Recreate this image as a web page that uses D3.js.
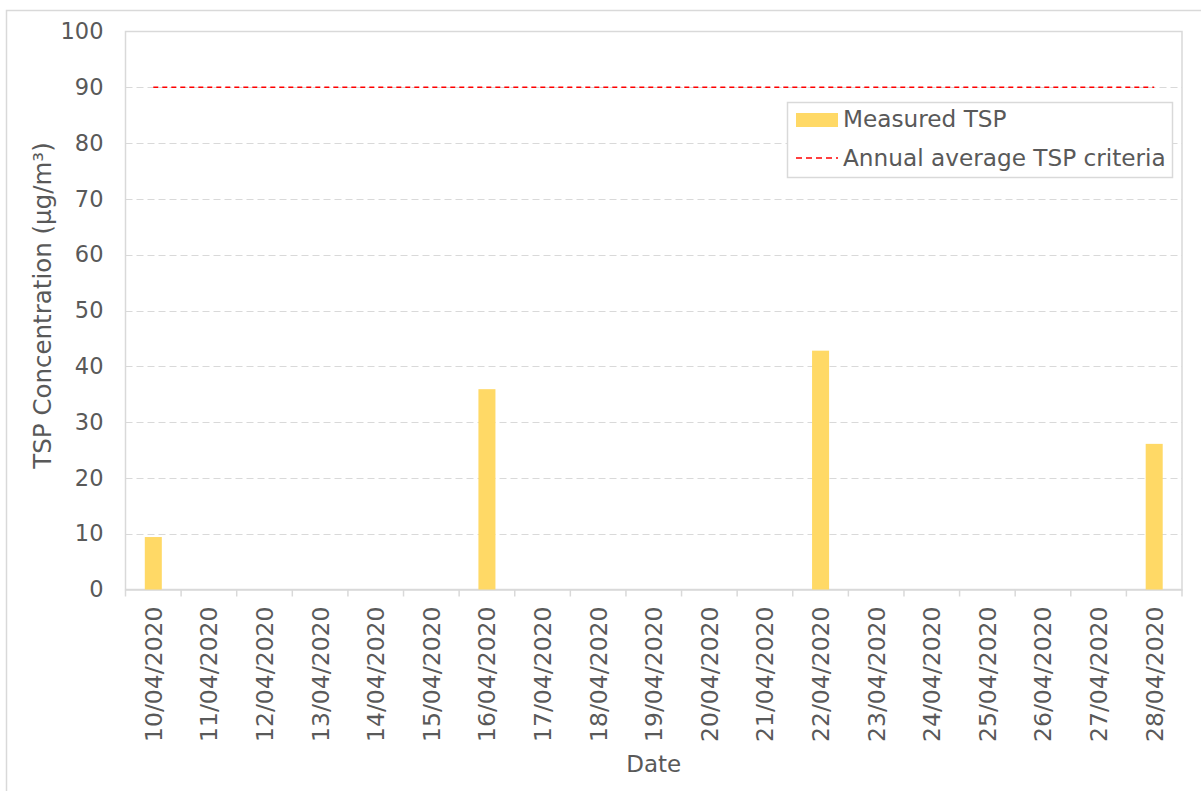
<!DOCTYPE html>
<html>
<head>
<meta charset="utf-8">
<script src="https://cdn.jsdelivr.net/npm/d3@7"></script>
<style>
  html, body { margin: 0; padding: 0; background: #ffffff; }
  svg { display: block; font-family: "DejaVu Sans", Verdana, sans-serif; }
</style>
</head>
<body>
<svg id="chart" width="1201" height="791"></svg>
<script>
// Sampling dates and measured TSP (µg/m³); null = no sample that day
const dates = ["10/04/2020","11/04/2020","12/04/2020","13/04/2020","14/04/2020","15/04/2020","16/04/2020",
  "17/04/2020","18/04/2020","19/04/2020","20/04/2020","21/04/2020","22/04/2020","23/04/2020",
  "24/04/2020","25/04/2020","26/04/2020","27/04/2020","28/04/2020"];
const measuredTSP = [9.4, null, null, null, null, null, 35.9, null, null, null, null, null, 42.8, null,
  null, null, null, null, 26.1];
const criteriaTSP = dates.map(() => 90);
const yTicks = [0, 10, 20, 30, 40, 50, 60, 70, 80, 90, 100];
const legendItems = ["Measured TSP", "Annual average TSP criteria"];

const svg = d3.select("#chart");
const textColor = "#595959";
const gridColor = "#d9d9d9";
const barColor = "#ffd966";

const plot = { left: 125.5, right: 1182, top: 31.5, bottom: 589.5 };

const x = d3.scaleBand().domain(dates).range([plot.left, plot.right]).padding(0);
const xBar = d3.scaleBand().domain(dates).range([plot.left, plot.right])
  .paddingInner(0.694).paddingOuter(0.347);
const y = d3.scaleLinear().domain([0, 100]).range([plot.bottom, plot.top]);

// chart frame
svg.append("rect").attr("x", 6.5).attr("y", 10.5).attr("width", 1205).attr("height", 800)
  .attr("fill", "#fff").attr("stroke", gridColor).attr("stroke-width", 1.5);

// horizontal gridlines
svg.append("g").selectAll("line").data(yTicks.filter(t => t > 0 && t < 100)).join("line")
  .attr("x1", plot.left).attr("x2", plot.right)
  .attr("y1", d => Math.round(y(d)) + 0.5).attr("y2", d => Math.round(y(d)) + 0.5)
  .attr("stroke", gridColor).attr("stroke-width", 1.2).attr("stroke-dasharray", "7,4");

// plot area border
svg.append("rect").attr("x", plot.left).attr("y", plot.top)
  .attr("width", plot.right - plot.left).attr("height", plot.bottom - plot.top)
  .attr("fill", "none").attr("stroke", gridColor).attr("stroke-width", 1.5);

// y axis
const yAxis = svg.append("g").attr("transform", `translate(${plot.left},0)`)
  .call(d3.axisLeft(y).tickValues(yTicks).tickSize(0).tickPadding(22));
yAxis.select(".domain").remove();
yAxis.selectAll("text").attr("fill", textColor).style("font-size", "22.5px")
  .attr("font-family", "DejaVu Sans");

// x axis with boundary ticks
const xAxis = svg.append("g").attr("transform", `translate(0,${plot.bottom})`)
  .call(d3.axisBottom(x).tickSize(0).tickPadding(0));
xAxis.select(".domain").attr("stroke", gridColor).attr("stroke-width", 1.5);
xAxis.selectAll(".tick line").remove();
xAxis.selectAll(".tick text")
  .attr("fill", textColor).style("font-size", "23.5px").attr("font-family", "DejaVu Sans")
  .attr("text-anchor", "end")
  .attr("transform", "rotate(-90)")
  .attr("x", -17).attr("y", 0).attr("dy", "0.36em");
const boundaries = dates.map(d => x(d)).concat([plot.right]);
svg.append("g").selectAll("line").data(boundaries).join("line")
  .attr("x1", d => d).attr("x2", d => d)
  .attr("y1", plot.bottom).attr("y2", plot.bottom + 7)
  .attr("stroke", gridColor).attr("stroke-width", 1.5);

// bars
svg.append("g").selectAll("rect")
  .data(dates.map((d, i) => ({ date: d, v: measuredTSP[i] })).filter(d => d.v != null))
  .join("rect")
  .attr("x", d => xBar(d.date)).attr("width", xBar.bandwidth())
  .attr("y", d => y(d.v)).attr("height", d => y(0) - y(d.v))
  .attr("fill", barColor);

// criteria line
const line = d3.line().x((d, i) => x(dates[i]) + x.bandwidth() / 2).y(d => y(d));
svg.append("path").datum(criteriaTSP).attr("d", line)
  .attr("fill", "none").attr("stroke", "#ff0000").attr("stroke-width", 1.6)
  .attr("stroke-dasharray", "5,4");

// axis titles
svg.append("text").attr("transform", `translate(51,${(plot.top + plot.bottom) / 2 - 5}) rotate(-90)`)
  .attr("text-anchor", "middle").attr("fill", textColor).style("font-size", "24.5px")
  .text("TSP Concentration (µg/m³)");
svg.append("text").attr("x", (plot.left + plot.right) / 2).attr("y", 772)
  .attr("text-anchor", "middle").attr("fill", textColor).style("font-size", "23px")
  .text("Date");

// legend
const lg = svg.append("g");
lg.append("rect").attr("x", 787.5).attr("y", 102.5).attr("width", 385).attr("height", 75)
  .attr("fill", "#fff").attr("stroke", gridColor).attr("stroke-width", 1.5);
lg.append("rect").attr("x", 796).attr("y", 113).attr("width", 42).attr("height", 14).attr("fill", barColor);
lg.append("line").attr("x1", 796).attr("x2", 838).attr("y1", 158).attr("y2", 158)
  .attr("stroke", "#ff0000").attr("stroke-width", 1.6).attr("stroke-dasharray", "6,4");
lg.selectAll("text.item").data(legendItems).join("text").attr("class", "item")
  .attr("x", 843).attr("y", (d, i) => 127 + i * 39)
  .attr("fill", textColor).style("font-size", "23.2px").text(d => d);
</script>
</body>
</html>
